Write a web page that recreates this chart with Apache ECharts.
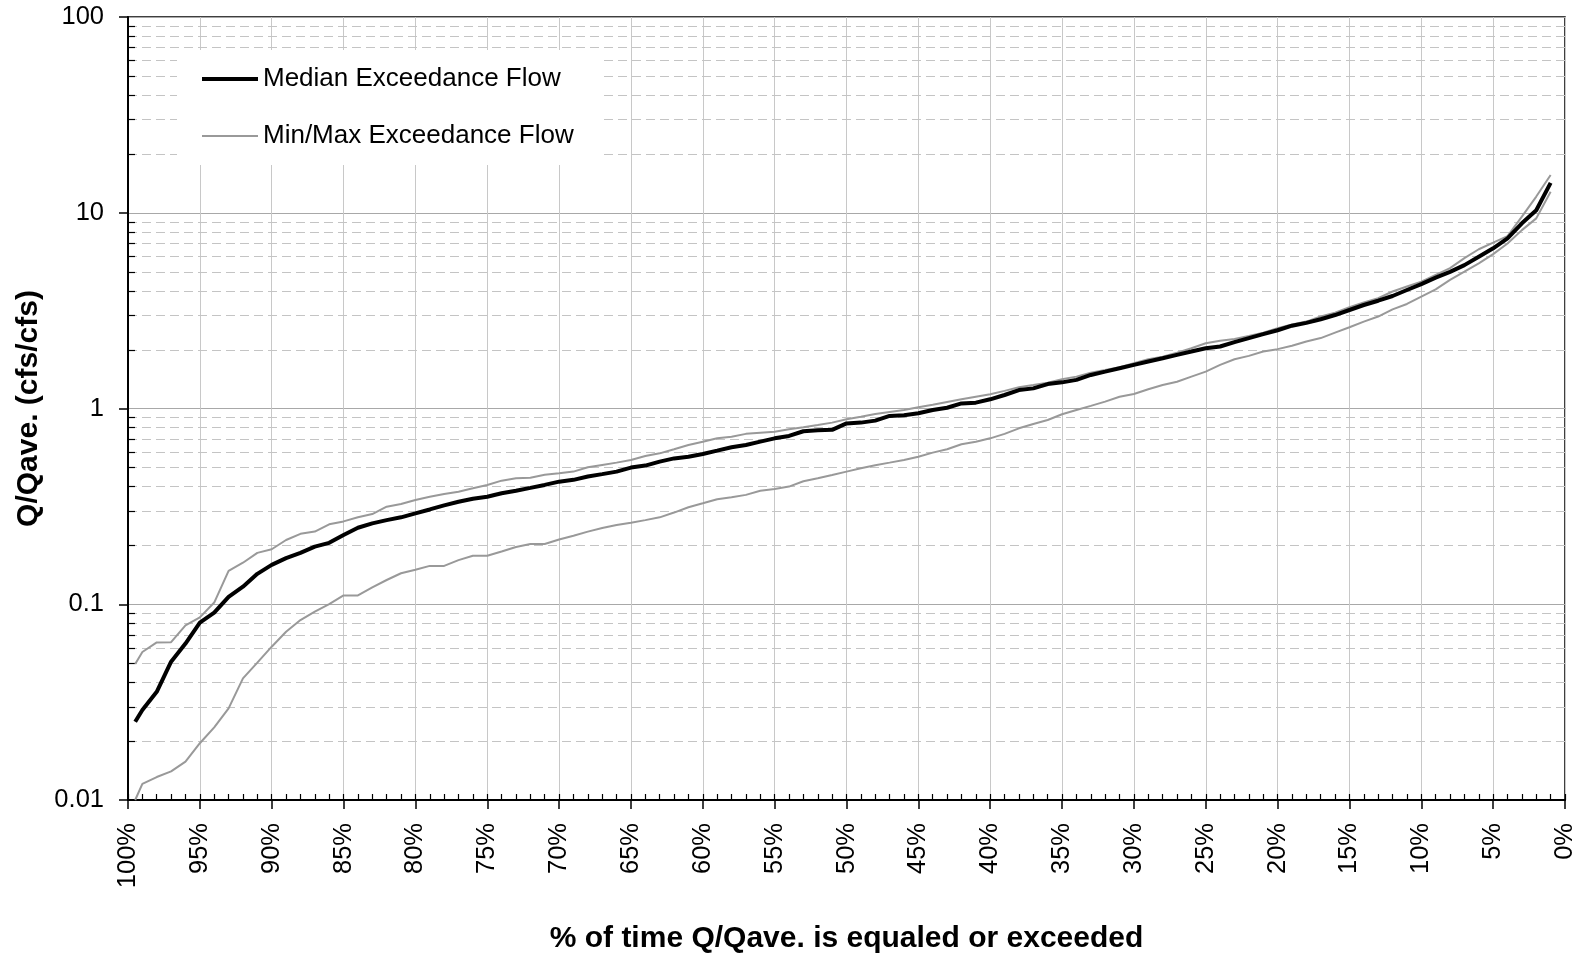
<!DOCTYPE html>
<html>
<head>
<meta charset="utf-8">
<script src="https://cdn.jsdelivr.net/npm/echarts@6/dist/echarts.min.js"></script>
<style>
html,body{margin:0;padding:0;background:#fff;}
#chart{width:1583px;height:956px;}
</style>
</head>
<body>
<div id="chart"></div>
<script>
// % of time exceeded
var percents = [99.5, 99, 98, 97, 96, 95, 94, 93, 92, 91, 90, 89, 88, 87, 86, 85, 84, 83, 82, 81,
  80, 79, 78, 77, 76, 75, 74, 73, 72, 71, 70, 69, 68, 67, 66, 65, 64, 63, 62, 61,
  60, 59, 58, 57, 56, 55, 54, 53, 52, 51, 50, 49, 48, 47, 46, 45, 44, 43, 42, 41,
  40, 39, 38, 37, 36, 35, 34, 33, 32, 31, 30, 29, 28, 27, 26, 25, 24, 23, 22, 21,
  20, 19, 18, 17, 16, 15, 14, 13, 12, 11, 10, 9, 8, 7, 6, 5, 4, 3, 2, 1];

var medianFlow = [0.0251, 0.0288, 0.0357, 0.0509, 0.063, 0.0805, 0.0906, 0.109, 0.123, 0.143,
  0.159, 0.172, 0.183, 0.197, 0.206, 0.226, 0.246, 0.259, 0.269, 0.278,
  0.291, 0.305, 0.320, 0.334, 0.346, 0.354, 0.369, 0.380, 0.393, 0.407,
  0.423, 0.432, 0.449, 0.462, 0.476, 0.499, 0.511, 0.535, 0.556, 0.567,
  0.586, 0.609, 0.634, 0.651, 0.677, 0.704, 0.724, 0.765, 0.775, 0.778,
  0.839, 0.847, 0.867, 0.916, 0.923, 0.945, 0.982, 1.009, 1.062, 1.071,
  1.114, 1.172, 1.242, 1.267, 1.333, 1.36, 1.40, 1.484, 1.543, 1.606,
  1.671, 1.738, 1.807, 1.880, 1.954, 2.033, 2.073, 2.184, 2.29, 2.40,
  2.51, 2.648, 2.737, 2.856, 3.003, 3.186, 3.378, 3.553, 3.755, 4.03,
  4.32, 4.66, 4.99, 5.40, 5.96, 6.58, 7.40, 8.83, 10.3, 14.2];

var maxFlow = [0.0495, 0.057, 0.0638, 0.064, 0.078, 0.0857, 0.102, 0.148, 0.163, 0.183,
  0.191, 0.213, 0.229, 0.235, 0.256, 0.265, 0.278, 0.289, 0.315, 0.325,
  0.341, 0.354, 0.366, 0.376, 0.391, 0.407, 0.428, 0.440, 0.443, 0.459,
  0.467, 0.476, 0.501, 0.515, 0.529, 0.546, 0.572, 0.590, 0.619, 0.651,
  0.677, 0.704, 0.718, 0.742, 0.752, 0.761, 0.783, 0.802, 0.824, 0.847,
  0.881, 0.908, 0.938, 0.960, 0.982, 1.014, 1.045, 1.079, 1.114, 1.148,
  1.182, 1.230, 1.283, 1.318, 1.355, 1.41, 1.455, 1.525, 1.573, 1.624,
  1.703, 1.785, 1.841, 1.928, 2.033, 2.154, 2.221, 2.265, 2.345, 2.438,
  2.57, 2.69, 2.78, 2.95, 3.09, 3.29, 3.48, 3.66, 3.96, 4.20,
  4.45, 4.82, 5.21, 5.86, 6.51, 7.03, 7.60, 9.55, 12.1, 15.6];

var minFlow = [0.0100, 0.0121, 0.0131, 0.0140, 0.0157, 0.0195, 0.0235, 0.0294, 0.0418, 0.0503,
  0.0607, 0.0724, 0.083, 0.0917, 0.1002, 0.111, 0.111, 0.122, 0.133, 0.144,
  0.150, 0.157, 0.157, 0.168, 0.177, 0.177, 0.186, 0.196, 0.203, 0.203,
  0.214, 0.224, 0.235, 0.245, 0.254, 0.261, 0.269, 0.278, 0.294, 0.313,
  0.328, 0.344, 0.352, 0.362, 0.380, 0.388, 0.399, 0.425, 0.440, 0.457,
  0.476, 0.495, 0.513, 0.529, 0.546, 0.567, 0.595, 0.619, 0.657, 0.677,
  0.704, 0.742, 0.792, 0.834, 0.874, 0.935, 0.982, 1.031, 1.084, 1.148,
  1.186, 1.254, 1.318, 1.370, 1.455, 1.543, 1.671, 1.785, 1.857, 1.954,
  2.01, 2.09, 2.20, 2.29, 2.44, 2.60, 2.78, 2.95, 3.21, 3.42,
  3.73, 4.06, 4.54, 5.00, 5.51, 6.15, 6.97, 8.15, 9.36, 12.8];

// minor log gridline values
var minorGridValues = [0.02, 0.03, 0.04, 0.05, 0.06, 0.07, 0.08, 0.09,
  0.2, 0.3, 0.4, 0.5, 0.6, 0.7, 0.8, 0.9,
  2, 3, 4, 5, 6, 7, 8, 9,
  20, 30, 40, 50, 60, 70, 80, 90];

var MEDIAN_NAME = 'Median Exceedance Flow';
var MINMAX_NAME = 'Min/Max Exceedance Flow';
var FONT = '"Liberation Sans", Arial, sans-serif';

function pairs(vals) {
  return percents.map(function (p, i) { return [p, vals[i]]; });
}

var chart = echarts.init(document.getElementById('chart'), null, {renderer: 'canvas'});

var option = {
  animation: false,
  backgroundColor: '#ffffff',
  textStyle: {fontFamily: FONT, color: '#000'},
  grid: {
    left: 128, right: 18, top: 17, bottom: 156,
    containLabel: false, outerBoundsMode: 'none',
    show: true, borderColor: '#000', borderWidth: 1.5, backgroundColor: 'transparent'
  },
  legend: {
    orient: 'vertical',
    left: 177, top: 50,
    padding: [16, 30, 16, 23],
    itemWidth: 56, itemHeight: 26, itemGap: 31,
    backgroundColor: '#ffffff',
    data: [
      {name: MEDIAN_NAME, lineStyle: {width: 4, color: '#000'}},
      {name: MINMAX_NAME, lineStyle: {width: 2, color: '#999999'}}
    ],
    itemStyle: {opacity: 0, borderWidth: 0},
    textStyle: {fontFamily: FONT, fontSize: 26, color: '#000', lineHeight: 26},
    z: 10
  },
  xAxis: [{
    type: 'value', min: 0, max: 100, interval: 5, inverse: true,
    name: '% of time Q/Qave. is equaled or exceeded',
    nameLocation: 'middle', nameGap: 124,
    nameTextStyle: {fontFamily: FONT, fontSize: 30, fontWeight: 'bold', color: '#000'},
    axisLine: {show: true, onZero: false, lineStyle: {color: '#000', width: 2}},
    axisTick: {show: true, length: 9, lineStyle: {color: '#000', width: 1.5}},
    axisLabel: {rotate: 90, margin: 23, fontSize: 25.5, color: '#000', fontFamily: FONT,
      formatter: function (v) { return v + '%'; }},
    splitLine: {show: true, lineStyle: {color: '#c8c8c8', width: 1}}
  }, {
    type: 'value', min: 0, max: 100, interval: 1, inverse: true, position: 'bottom',
    axisLine: {show: false},
    axisTick: {show: true, inside: true, length: 6, lineStyle: {color: '#000', width: 1.2}},
    axisLabel: {show: false},
    splitLine: {show: false}
  }],
  yAxis: {
    type: 'log', logBase: 10, min: 0.01, max: 100,
    name: 'Q/Qave. (cfs/cfs)',
    nameLocation: 'middle', nameGap: 82,
    nameTextStyle: {fontFamily: FONT, fontSize: 30, fontWeight: 'bold', color: '#000'},
    axisLine: {show: true, onZero: false, lineStyle: {color: '#000', width: 2}},
    axisTick: {show: true, length: 9, lineStyle: {color: '#000', width: 1.5}},
    axisLabel: {margin: 24, fontSize: 25.5, color: '#000', fontFamily: FONT,
      formatter: function (v) { return String(+v.toPrecision(6)); }},
    splitLine: {show: true, lineStyle: {color: '#a8a8a8', width: 1.2}}
  },
  series: [{
    name: 'minor-grid',
    type: 'custom',
    xAxisIndex: 0, yAxisIndex: 0,
    silent: true, z: 1,
    data: minorGridValues.map(function (v) { return [50, v]; }),
    encode: {x: 0, y: 1},
    renderItem: function (params, api) {
      var cs = params.coordSys;
      var y = Math.round(api.coord([50, api.value(1)])[1]) + 0.5;
      return {
        type: 'group',
        children: [{
          type: 'line',
          shape: {x1: cs.x, y1: y, x2: cs.x + cs.width, y2: y},
          style: {stroke: '#c4c4c4', lineWidth: 1, lineDash: [9, 5]}
        }, {
          type: 'line',
          shape: {x1: cs.x, y1: y, x2: cs.x + 7, y2: y},
          style: {stroke: '#000', lineWidth: 1.2}
        }]
      };
    }
  }, {
    name: MINMAX_NAME, type: 'line', data: pairs(maxFlow),
    symbol: 'none', z: 3,
    lineStyle: {color: '#999999', width: 2}, itemStyle: {color: '#999999'}
  }, {
    name: MINMAX_NAME, type: 'line', data: pairs(minFlow),
    symbol: 'none', z: 3,
    lineStyle: {color: '#999999', width: 2}, itemStyle: {color: '#999999'}
  }, {
    name: MEDIAN_NAME, type: 'line', data: pairs(medianFlow),
    symbol: 'none', z: 4,
    lineStyle: {color: '#000000', width: 4}, itemStyle: {color: '#000000'}
  }]
};

chart.setOption(option);
</script>
</body>
</html>
